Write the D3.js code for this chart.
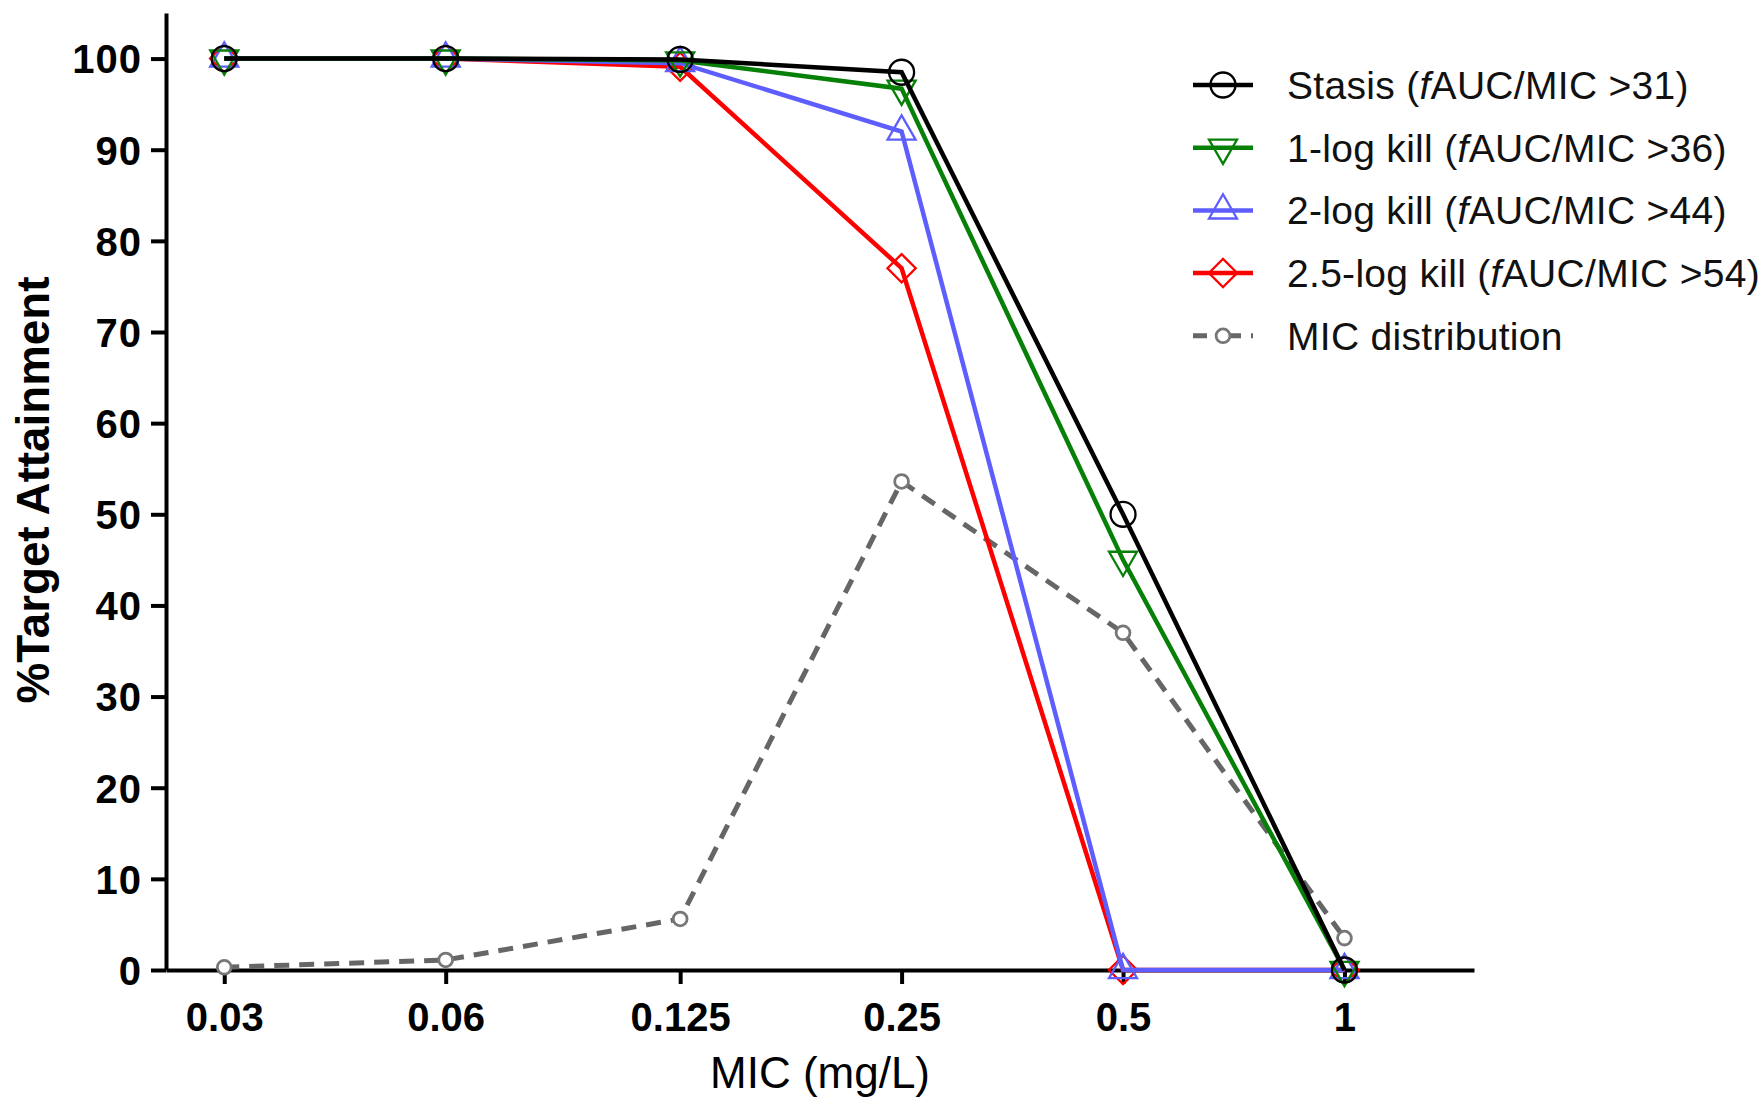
<!DOCTYPE html>
<html>
<head>
<meta charset="utf-8">
<script src="https://cdn.jsdelivr.net/npm/d3@7"></script>
<style>
  body { margin: 0; background: #fff; }
  text { font-family: "Liberation Sans", Arial, sans-serif; }
</style>
</head>
<body>
<div id="chart"></div>
<script>
// data
var micValues = [0.03, 0.06, 0.125, 0.25, 0.5, 1];
var micLabels = ["0.03", "0.06", "0.125", "0.25", "0.5", "1"];
var stasis = [100, 100, 99.9, 98.5, 50, 0];
var oneLogKill = [100, 100, 99.8, 96.7, 45, 0];
var twoLogKill = [100, 100, 99.5, 92, 0, 0];
var twoHalfLogKill = [100, 100, 99.1, 77, 0, 0];
var micDistribution = [0.3, 1.1, 5.6, 53.6, 37, 3.5];
var yTickValues = [0, 10, 20, 30, 40, 50, 60, 70, 80, 90, 100];

var legendPrefixes = ["Stasis (", "1-log kill (", "2-log kill (", "2.5-log kill (", "MIC distribution"];
var legendSuffixes = ["AUC/MIC >31)", "AUC/MIC >36)", "AUC/MIC >44)", "AUC/MIC >54)", ""];

function program() {
    var width = 1764,
        height = 1098;

    var svg = d3.select("#chart")
        .append("svg")
        .attr("width", width)
        .attr("height", height);

    svg.append("rect").attr("width", width).attr("height", height).attr("fill", "#fff");

    // scales: x is log2 spaced in the original
    var x = d3.scaleLog().base(2)
        .domain([0.025, 1.5])
        .range([166, 1474]);

    var y = d3.scaleLinear()
        .domain([0, 105])
        .range([970, 13]);

    // axes
    var yAxis = svg.append("g")
        .attr("transform", "translate(166,0)")
        .call(d3.axisLeft(y).tickValues(yTickValues).tickSize(15).tickSizeOuter(0).tickPadding(9));

    var xAxis = svg.append("g")
        .attr("transform", "translate(0,970)")
        .call(d3.axisBottom(x).tickValues(micValues)
            .tickFormat(function(d, i) { return micLabels[i]; })
            .tickSize(14).tickSizeOuter(0));

    [yAxis, xAxis].forEach(function(g) {
        g.select(".domain").attr("stroke", "#000").attr("stroke-width", 4);
        g.selectAll(".tick line").attr("stroke", "#000").attr("stroke-width", 4);
        g.selectAll(".tick text")
            .attr("fill", "#000")
            .attr("font-weight", "bold");
    });
    yAxis.selectAll(".tick text").attr("font-size", 40).attr("letter-spacing", 1).attr("dy", "0.36em");
    xAxis.selectAll(".tick text").attr("font-size", 40).attr("dy", null).attr("y", 61);

    // axis titles
    svg.append("text")
        .attr("transform", "translate(49,490) rotate(-90)")
        .attr("text-anchor", "middle")
        .attr("font-size", 47)
        .attr("font-weight", "bold")
        .attr("textLength", 427)
        .attr("lengthAdjust", "spacingAndGlyphs")
        .text("%Target Attainment");

    svg.append("text")
        .attr("x", 820)
        .attr("y", 1088)
        .attr("text-anchor", "middle")
        .attr("font-size", 44)
        .text("MIC (mg/L)");

    // series definitions
    var series = [
        { values: micDistribution, color: "#666666", dash: "15,10", width: 5, marker: "mic" },
        { values: twoHalfLogKill, color: "#ff0000", dash: null, width: 4.5, marker: "diamond" },
        { values: twoLogKill, color: "#5e5eff", dash: null, width: 4.5, marker: "up" },
        { values: oneLogKill, color: "#078007", dash: null, width: 4.5, marker: "down" },
        { values: stasis, color: "#000000", dash: null, width: 4.5, marker: "circle" }
    ];

    function markerPath(type) {
        if (type === "circle") return d3.symbol().type(d3.symbolCircle).size(490)();
        if (type === "up" || type === "down") return d3.symbol().type(d3.symbolTriangle).size(340)();
        if (type === "diamond") return d3.symbol().type(d3.symbolSquare).size(400)();
        return d3.symbol().type(d3.symbolCircle).size(150)();
    }
    function markerRotate(type) {
        if (type === "down") return " rotate(180)";
        if (type === "diamond") return " rotate(45)";
        return "";
    }

    var line = d3.line()
        .x(function(d, i) { return x(micValues[i]); })
        .y(function(d) { return y(d); });

    series.forEach(function(s) {
        var g = svg.append("g");
        g.append("path")
            .attr("d", line(s.values))
            .attr("fill", "none")
            .attr("stroke", s.color)
            .attr("stroke-width", s.width)
            .attr("stroke-dasharray", s.dash);

        g.selectAll("path.marker")
            .data(s.values)
            .join("path")
            .attr("class", "marker")
            .attr("d", markerPath(s.marker))
            .attr("transform", function(d, i) {
                return "translate(" + x(micValues[i]) + "," + y(d) + ")" + markerRotate(s.marker);
            })
            .attr("fill", s.marker === "mic" ? "#fff" : "none")
            .attr("stroke", s.marker === "mic" ? "#777" : s.color)
            .attr("stroke-width", s.marker === "mic" ? 2.8 : 2.3);
    });

    // legend
    var legendOrder = [4, 3, 2, 1, 0];
    var legend = svg.append("g");
    legendOrder.forEach(function(si, row) {
        var s = series[si];
        var cy = 85 + row * 62.7;
        var lg = legend.append("g");
        lg.append("line")
            .attr("x1", 1193).attr("x2", 1253)
            .attr("y1", cy).attr("y2", cy)
            .attr("stroke", s.color)
            .attr("stroke-width", s.width)
            .attr("stroke-dasharray", s.dash ? "14,14,20,10,5,100" : null);
        lg.append("path")
            .attr("d", markerPath(s.marker))
            .attr("transform", "translate(1223," + cy + ")" + markerRotate(s.marker))
            .attr("fill", s.marker === "mic" ? "#fff" : "none")
            .attr("stroke", s.marker === "mic" ? "#777" : s.color)
            .attr("stroke-width", s.marker === "mic" ? 2.8 : 2.3);

        var t = lg.append("text")
            .attr("x", 1287)
            .attr("y", cy + 14)
            .attr("font-size", 39)
            .attr("letter-spacing", 0.3)
            .attr("fill", "#111");
        t.append("tspan").text(legendPrefixes[row]);
        if (legendSuffixes[row]) {
            t.append("tspan").attr("font-style", "italic").text("f");
            t.append("tspan").text(legendSuffixes[row]);
        }
    });
}

program();
</script>
</body>
</html>
